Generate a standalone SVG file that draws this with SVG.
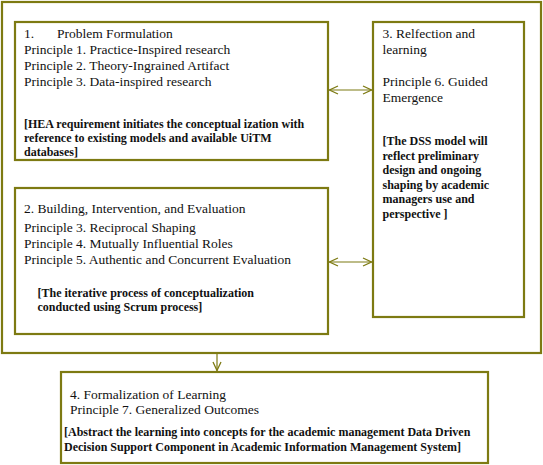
<svg xmlns="http://www.w3.org/2000/svg" width="543" height="465" viewBox="0 0 543 465">
<defs>
<style>
.box{fill:#fff;stroke:#7d7a12;stroke-width:2.2}
.frame{fill:none;stroke:#7d7a12;stroke-width:2.2}
.t{font-family:"Liberation Serif","Times New Roman",serif;font-size:13.5px;fill:#111}
.b{font-family:"Liberation Serif","Times New Roman",serif;font-size:12px;font-weight:bold;fill:#111}
.c{stroke:#7d7a12;stroke-width:1.2;fill:none}
</style>
<marker id="ah" viewBox="0 0 10 10" refX="10" refY="5" markerWidth="10" markerHeight="10" markerUnits="userSpaceOnUse" orient="auto-start-reverse">
<path d="M1,1 L9.5,5 L1,9" fill="none" stroke="#7d7a12" stroke-width="1.3"/>
</marker>
</defs>
<rect width="543" height="465" fill="#fff"/>
<rect class="frame" x="2" y="2" width="539" height="351"/>
<g id="connectors">
<line class="c" x1="329" y1="90" x2="372" y2="90" marker-start="url(#ah)" marker-end="url(#ah)"/>
<line class="c" x1="329" y1="262" x2="372" y2="262" marker-start="url(#ah)" marker-end="url(#ah)"/>
<line class="c" x1="217" y1="354" x2="217" y2="371" marker-end="url(#ah)"/>
</g>
<g id="node1">
<rect class="box" x="15" y="22" width="313" height="138"/>
<text class="t" x="24" y="38">1.<tspan x="57">Problem Formulation</tspan></text>
<text class="t" x="24" y="54">Principle 1. Practice-Inspired research</text>
<text class="t" x="24" y="70">Principle 2. Theory-Ingrained Artifact</text>
<text class="t" x="24" y="86">Principle 3. Data-inspired research</text>
<text class="b" x="24" y="128">[HEA requirement  initiates the conceptual ization with</text>
<text class="b" x="24" y="142">reference to existing models and available UiTM</text>
<text class="b" x="24" y="156">databases]</text>
</g>
<g id="node2">
<rect class="box" x="15" y="188" width="313" height="146"/>
<text class="t" x="24" y="213">2. Building, Intervention, and Evaluation</text>
<text class="t" x="24" y="232">Principle 3. Reciprocal Shaping</text>
<text class="t" x="24" y="248">Principle 4. Mutually Influential Roles</text>
<text class="t" x="24" y="264">Principle 5. Authentic and Concurrent Evaluation</text>
<text class="b" x="37.5" y="297">[The iterative process  of conceptualization</text>
<text class="b" x="37.5" y="311">conducted using Scrum process]</text>
</g>
<g id="node3">
<rect class="box" x="373" y="22" width="151" height="295"/>
<text class="t" x="382.5" y="38">3. Relfection and</text>
<text class="t" x="382.5" y="54">learning</text>
<text class="t" x="382.5" y="86">Principle 6. Guided</text>
<text class="t" x="382.5" y="102">Emergence</text>
<text class="b" x="382.5" y="145">[The DSS model will</text>
<text class="b" x="382.5" y="159.5">reflect preliminary</text>
<text class="b" x="382.5" y="174">design and  ongoing</text>
<text class="b" x="382.5" y="188.5">shaping by academic</text>
<text class="b" x="382.5" y="203">managers use and</text>
<text class="b" x="382.5" y="217.5">perspective ]</text>
</g>
<g id="node4">
<rect class="box" x="61" y="372" width="427" height="91"/>
<text class="t" x="70" y="399">4. Formalization of Learning</text>
<text class="t" x="70" y="414">Principle 7. Generalized Outcomes</text>
<text class="b" x="64" y="436">[Abstract the learning into concepts for the academic management Data Driven</text>
<text class="b" x="64" y="451">Decision Support Component in Academic Information Management System]</text>
</g>
</svg>
